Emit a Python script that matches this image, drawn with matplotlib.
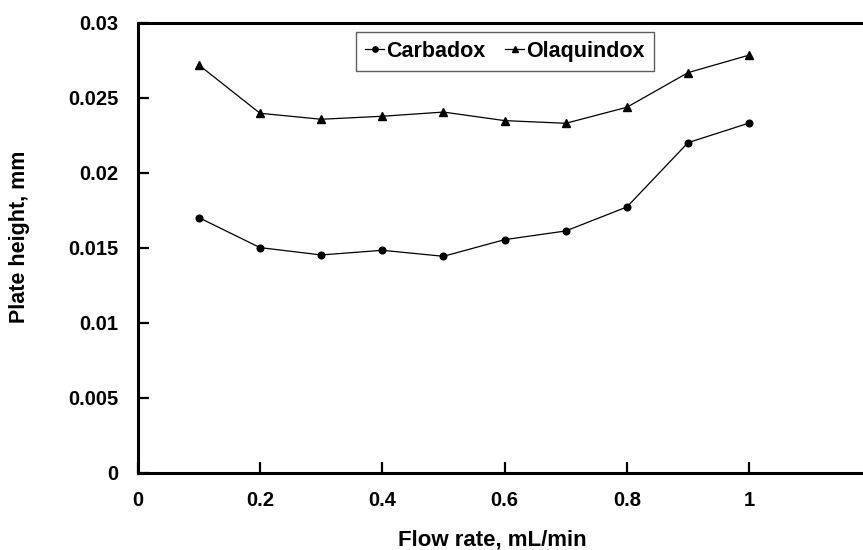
import matplotlib
matplotlib.use("Agg")
import matplotlib.pyplot as plt
from matplotlib import font_manager

flow_rate = [0.1, 0.2, 0.3, 0.4, 0.5, 0.6, 0.7, 0.8, 0.9, 1.0]
carbadox = [0.0170, 0.0150, 0.01451, 0.01482, 0.01442, 0.01553, 0.01611, 0.01771, 0.0220, 0.02331]
olaquindox = [0.02718, 0.02396, 0.02356, 0.02376, 0.02404, 0.02347, 0.02329, 0.02436, 0.02667, 0.02784]
x_ticks = [0, 0.2, 0.4, 0.6, 0.8, 1.0]
x_tick_labels = ["0", "0.2", "0.4", "0.6", "0.8", "1"]
y_ticks = [0, 0.005, 0.01, 0.015, 0.02, 0.025, 0.03]
y_tick_labels = ["0", "0.005", "0.01", "0.015", "0.02", "0.025", "0.03"]
series_names = ["Carbadox", "Olaquindox"]

names = {f.name for f in font_manager.fontManager.ttflist}
base = ["Liberation Sans", "DejaVu Sans"]
narrow = ["Liberation Sans Narrow"] + base if "Liberation Sans Narrow" in names else base

plt.rcParams["font.family"] = base
plt.rcParams["font.weight"] = "bold"

W, H = 863, 550
fig = plt.figure(figsize=(W / 100, H / 100), dpi=100)
left, right, bottom, top = 137.7, 871.5, 472.5, 22.7
ax = fig.add_axes([left / W, (H - bottom) / H, (right - left) / W, (bottom - top) / H])

ax.plot(flow_rate, carbadox, color="black", lw=0.9, marker="o", ms=4.8,
        mfc="black", mec="black", label=series_names[0])
ax.plot(flow_rate, olaquindox, color="black", lw=0.9, marker="^", ms=6.2,
        mfc="black", mec="black", label=series_names[1])

ax.set_xlim(0, 1.2)
ax.set_ylim(0, 0.03)
ax.set_xticks(x_ticks)
ax.set_xticklabels(x_tick_labels)
ax.set_yticks(y_ticks)
ax.set_yticklabels(y_tick_labels)
ax.tick_params(direction="in", length=8, width=1.6, labelsize=14.5)
ax.tick_params(axis="y", pad=14)
ax.tick_params(axis="x", pad=13)
for lab in ax.get_xticklabels() + ax.get_yticklabels():
    lab.set_fontweight("bold")
for s in ax.spines.values():
    s.set_linewidth(2.2)

ax.set_xlabel("Flow rate, mL/min", fontsize=16, fontweight="bold", family=narrow, va="center")
ax.xaxis.set_label_coords((492.5 - left) / (right - left), -(540 - bottom) / (bottom - top))
ax.set_ylabel("Plate height, mm", fontsize=15.5, fontweight="bold", va="center")
ax.yaxis.set_label_coords((20 - left) / (right - left), (bottom - 237) / (bottom - top))

leg = ax.legend(loc="upper center", bbox_to_anchor=((505 - left) / (right - left), (bottom - 31.7) / (bottom - top)),
                ncol=2, frameon=True, fancybox=False, shadow=False,
                handlelength=0.9, handletextpad=0.1, columnspacing=0.9,
                borderpad=0.42, borderaxespad=0, markerscale=0.8,
                prop={"weight": "bold", "size": 15.5})
leg.get_frame().set_edgecolor("#333333")
leg.get_frame().set_linewidth(1.0)

fig.savefig("out.png", dpi=100)
